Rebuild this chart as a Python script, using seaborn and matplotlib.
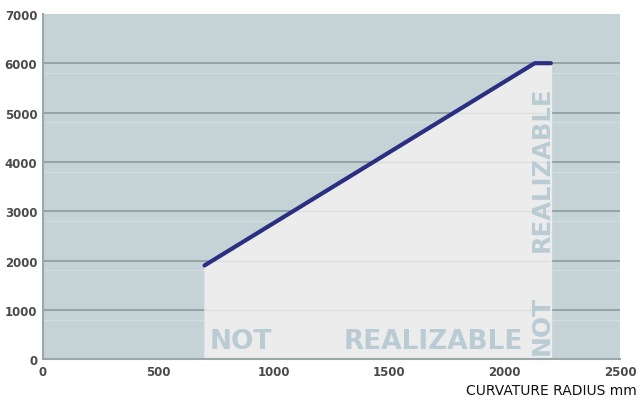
import pandas as pd
import seaborn as sns
import matplotlib.pyplot as plt

# Boundary of the realizable region
radius = [700, 2130, 2200]
length = [1900, 6000, 6000]

x_ticks = [0, 500, 1000, 1500, 2000, 2500]
y_ticks = [0, 1000, 2000, 3000, 4000, 5000, 6000, 7000]

df = pd.DataFrame({'radius': radius, 'length': length})

sns.set_style('white')
plt.rcParams['font.family'] = ['Liberation Sans Narrow', 'DejaVu Sans']

fig = plt.figure(figsize=(6.4, 4.02), dpi=100)
ax = fig.add_axes([0.067, 0.104, 0.902, 0.859])
ax.set_facecolor('#c6d3d6')

# Realizable area under the line
area = ax.fill_between(df['radius'], 0, df['length'], color='#ececec', zorder=1)
for y in y_ticks[1:-1]:
    ax.axhline(y, color='#8b9c9f', lw=1.2, zorder=0.5)
    ax.axhline(y - 200, color='#d3dddf', lw=0.8, zorder=0.5)
    faint = ax.axhline(y, color='#dcdfe0', lw=1, zorder=1.5)
    faint.set_clip_path(area.get_paths()[0], area.get_transform())

sns.lineplot(data=df, x='radius', y='length', color='#2b2f82', lw=3,
             solid_capstyle='round', ax=ax, zorder=3)

# Labels inside the plot
lab = dict(color='#b9cbd3', fontweight='heavy', family='DejaVu Sans', zorder=2)
ax.text(720, 110, 'NOT', ha='left', va='bottom', fontsize=19, **lab)
ax.text(2080, 110, 'REALIZABLE', ha='right', va='bottom', fontsize=19, **lab)
ax.text(2160, 110, 'NOT', ha='center', va='bottom', rotation=90, fontsize=18, **lab)
ax.text(2160, 2200, 'REALIZABLE', ha='center', va='bottom', rotation=90, fontsize=17.5, **lab)

ax.set_xlim(0, 2500)
ax.set_ylim(0, 7000)
ax.set_xticks(x_ticks)
ax.set_yticks(y_ticks)
ax.tick_params(labelsize=8.5, colors='#4a4a4a', length=0, pad=4)
for t in ax.get_xticklabels() + ax.get_yticklabels():
    t.set_fontweight('bold')
for s in ['top', 'right']:
    ax.spines[s].set_visible(False)
for s in ['left', 'bottom']:
    ax.spines[s].set_color('#9aa8ab')
    ax.spines[s].set_linewidth(1.5)
ax.set_xlabel('')
ax.set_ylabel('')
fig.text(0.995, 0.01, 'CURVATURE RADIUS mm', ha='right', va='bottom',
         fontsize=10, family='DejaVu Sans', color='#111111')

plt.savefig('out.png', dpi=100)
